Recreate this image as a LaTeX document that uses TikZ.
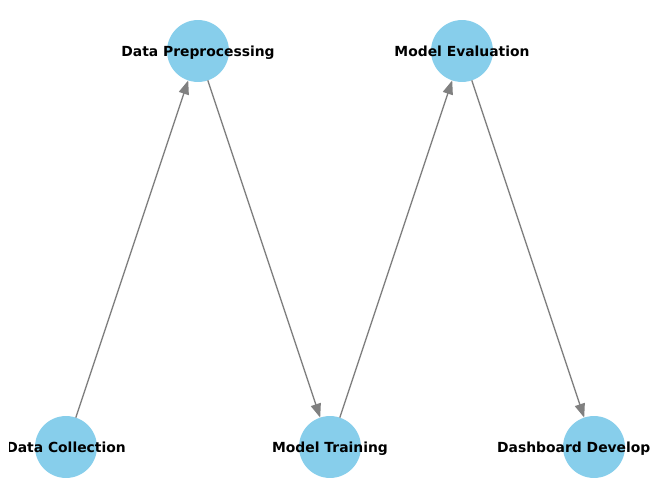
\documentclass[tikz,border=0pt]{standalone}
\usepackage{fontspec}
\setmainfont{DejaVu Sans}
\usetikzlibrary{arrows.meta}
\definecolor{skyblue}{RGB}{135,206,235}
\definecolor{edgegray}{RGB}{128,128,128}
\tikzset{
  stage/.style={circle, fill=skyblue, minimum size=44.6pt, inner sep=0pt, outer sep=0pt},
  stagelabel/.style={font=\fontsize{10}{12}\selectfont\bfseries, text=black, inner sep=0pt, text height=7.3pt, text depth=0pt},
  flow/.style={draw=edgegray, line width=1pt, -{Triangle[length=10pt,width=7.4pt]}}
}
\begin{document}
\begin{tikzpicture}[x=0.72pt,y=-0.72pt]
\useasboundingbox (0,0) rectangle (660,499);
\clip (9,0) rectangle (650.5,499);
\node[stage] (dc) at (66,447) {};
\node[stage] (dp) at (198,51) {};
\node[stage] (mt) at (330,447) {};
\node[stage] (me) at (462,51) {};
\node[stage] (dd) at (594,447) {};
\draw[flow] (dc) -- (dp);
\draw[flow] (dp) -- (mt);
\draw[flow] (mt) -- (me);
\draw[flow] (me) -- (dd);
\node[stagelabel] (dcl) at (dc.center) {Data Collection};
\node[stagelabel] (dpl) at (dp.center) {Data Preprocessing};
\node[stagelabel] (mtl) at (mt.center) {Model Training};
\node[stagelabel] (mel) at (me.center) {Model Evaluation};
\node[stagelabel] (ddl) at (dd.center) {Dashboard Development};
\end{tikzpicture}
\end{document}
